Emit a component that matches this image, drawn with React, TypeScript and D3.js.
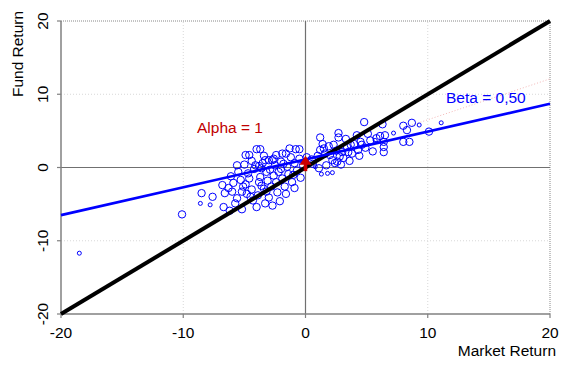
import { useEffect, useRef } from 'react';
import * as d3 from 'd3';

// axis ticks
const xTicks = [-20, -10, 0, 10, 20];
const yTicks = [-20, -10, 0, 10, 20];

// fund vs market returns
const points: [number, number][] = [
  [-10.1, -6.4], [-8.5, -3.5], [-7.6, -4.0], [-6.7, -5.4], [-6.6, -3.5],
  [-6.0, -3.3], [-5.75, -4.9], [-5.6, -4.2], [-5.9, -2.1], [-5.6, 0.3],
  [-4.9, 1.7], [-4.6, 1.7], [-4.0, 2.5], [-3.7, 2.5], [-5.5, -0.6],
  [-5.3, -1.7], [-5.1, -2.6], [-4.5, -4.0], [-4.3, -4.5], [-4.7, -0.8],
  [-4.1, 0.3], [-3.8, 0.2], [-3.7, -1.3], [-3.8, -2.0], [-3.4, -2.9],
  [-3.3, 1.0], [-3.2, -0.6], [-3.2, -3.3], [-3.0, 1.0], [-2.7, 1.0],
  [-2.6, 1.2], [-1.9, 1.9], [-1.6, 1.9], [-0.8, 2.5], [-0.5, 2.5],
  [-6.3, -2.8], [-6.1, -1.2], [-5.2, -3.3], [-4.9, -2.3], [-4.6, -1.5],
  [-4.4, -3.0], [-4.2, -0.2], [-3.9, -3.8], [-3.6, -2.5], [-3.5, 0.6],
  [-3.1, -1.8], [-2.9, -0.3], [-2.8, -2.6], [-2.6, -1.1], [-2.5, 0.3],
  [-2.3, -3.4], [-2.2, -0.6], [-2.0, 0.8], [-1.9, -1.5], [-1.7, -2.6],
  [-1.5, 0.1], [-1.4, -0.9], [-1.2, 1.4], [-1.1, -2.0], [-0.9, 0.6],
  [-0.7, -0.4], [-0.5, 1.2], [-0.4, -1.4], [-0.2, 0.3], [-2.4, 1.7],
  [-3.4, 1.6], [-4.4, 0.9], [-5.0, 0.4], [-1.3, 2.6], [-2.1, -4.6],
  [-2.7, -5.2], [-3.3, -4.9], [-1.6, -3.6], [-0.9, -2.8], [-5.2, -5.7],
  [-4.0, -5.4], [-6.2, -5.9], [-3.0, -4.1], [-2.4, -2.0], [-1.0, -1.0],
  [-4.8, -3.6], [-3.6, -0.1], [-2.0, -0.2], [-1.8, 0.5], [-6.8, -2.4],
  [0.1, 1.4], [1.2, 4.1], [2.7, 4.7], [4.8, 6.2], [4.2, 4.4],
  [2.7, 4.1], [2.3, 3.1], [1.9, 2.9], [1.5, 2.6], [1.2, 2.4],
  [1.6, 1.9], [2.2, 1.0], [2.6, 0.8], [2.8, 1.5], [3.0, 2.1],
  [3.4, 2.8], [3.7, 3.1], [4.3, 2.4], [4.6, 3.1], [4.5, 3.5],
  [5.3, 3.7], [1.1, -0.1], [2.4, 0.6], [3.5, 2.1], [6.3, 5.9],
  [8.0, 5.7], [8.7, 6.1], [8.3, 5.1], [6.5, 4.4], [6.1, 4.3],
  [5.8, 4.0], [6.4, 3.5], [6.4, 2.8], [6.4, 2.1], [8.0, 3.5],
  [8.5, 3.5], [10.1, 4.9], [1.0, 1.6], [1.4, 3.2], [2.0, 1.7],
  [2.5, 2.3], [3.1, 1.3], [3.3, 3.9], [3.8, 1.9], [4.0, 3.2],
  [4.4, 1.6], [4.9, 2.7], [5.1, 4.6], [5.5, 2.2], [2.9, 0.4],
  [3.6, 0.9], [1.7, 0.3], [0.5, 1.1], [0.6, 0.5],
];

// points that render as small marks
const smallPoints: [number, number][] = [
  [-18.5, -11.7], [-8.6, -4.9], [-7.8, -5.1], [5.7, 3.7], [7.2, 4.7],
  [9.3, 5.8], [11.1, 6.1], [0.8, 0.1], [1.3, -0.9], [1.8, -0.8], [2.2, -0.7],
];

// regression lines: [x, y] end points
const diagonal: [number, number][] = [[-20, -20], [20, 20]];
const fitLine: [number, number][] = [[-20, -6.5], [20, 8.7]];
const faintLine: [number, number][] = [[8, 5.4], [20, 12.1]];
const alpha: [number, number] = [0, 1];

export default function App() {
  const svgRef = useRef<SVGSVGElement>(null);

  useEffect(() => {
    if (!svgRef.current) return;
    const width = 576;
    const height = 370;
    const svg = d3.select(svgRef.current);
    svg.selectAll('*').remove();

    const x = d3.scaleLinear().domain([-20, 20]).range([61, 550]);
    const y = d3.scaleLinear().domain([-20, 20]).range([314, 21]);
    const font = 'Arial, "Liberation Sans", sans-serif';

    const g = svg.append('g');

    // dotted grid
    [-10, 10].forEach(v => {
      g.append('line')
        .attr('x1', x(v)).attr('x2', x(v)).attr('y1', y(-20)).attr('y2', y(20))
        .attr('stroke', '#d8d8d8').attr('stroke-dasharray', '1,2');
      g.append('line')
        .attr('x1', x(-20)).attr('x2', x(20)).attr('y1', y(v)).attr('y2', y(v))
        .attr('stroke', '#d8d8d8').attr('stroke-dasharray', '1,2');
    });
    // dotted top and right border
    g.append('line')
      .attr('x1', x(-20)).attr('x2', x(20)).attr('y1', y(20)).attr('y2', y(20))
      .attr('stroke', '#888').attr('stroke-dasharray', '1,1');
    g.append('line')
      .attr('x1', x(20)).attr('x2', x(20)).attr('y1', y(20)).attr('y2', y(-20))
      .attr('stroke', '#888').attr('stroke-dasharray', '1,1');

    // zero lines
    g.append('line')
      .attr('x1', x(-20)).attr('x2', x(20)).attr('y1', y(0)).attr('y2', y(0))
      .attr('stroke', '#707070').attr('stroke-width', 1.2);
    g.append('line')
      .attr('x1', x(0)).attr('x2', x(0)).attr('y1', y(-20)).attr('y2', y(20))
      .attr('stroke', '#707070').attr('stroke-width', 1.2);

    // axes
    const axisColor = '#808080';
    g.append('line')
      .attr('x1', x(-20)).attr('x2', x(-20)).attr('y1', y(-20)).attr('y2', y(20))
      .attr('stroke', axisColor).attr('stroke-width', 1.5);
    g.append('line')
      .attr('x1', x(-20)).attr('x2', x(20)).attr('y1', y(-20)).attr('y2', y(-20))
      .attr('stroke', axisColor).attr('stroke-width', 1.5);

    yTicks.forEach(v => {
      g.append('line')
        .attr('x1', x(-20) - 4).attr('x2', x(-20)).attr('y1', y(v)).attr('y2', y(v))
        .attr('stroke', axisColor).attr('stroke-width', 1.2);
      g.append('text')
        .attr('transform', `translate(48,${y(v)}) rotate(-90)`)
        .attr('text-anchor', 'middle')
        .style('font-family', font).style('font-size', '15.5px')
        .attr('fill', '#000')
        .text(v);
    });
    xTicks.forEach(v => {
      g.append('line')
        .attr('x1', x(v)).attr('x2', x(v)).attr('y1', y(-20)).attr('y2', y(-20) + 4)
        .attr('stroke', axisColor).attr('stroke-width', 1.2);
      g.append('text')
        .attr('x', x(v)).attr('y', 338)
        .attr('text-anchor', 'middle')
        .style('font-family', font).style('font-size', '15.5px')
        .attr('fill', '#000')
        .text(v);
    });

    // axis titles
    g.append('text')
      .attr('transform', 'translate(23,54) rotate(-90)')
      .attr('text-anchor', 'middle')
      .style('font-family', font).style('font-size', '15.5px')
      .text('Fund Return');
    g.append('text')
      .attr('x', 556).attr('y', 356)
      .attr('text-anchor', 'end')
      .style('font-family', font).style('font-size', '15.5px')
      .text('Market Return');

    const line = d3.line<[number, number]>().x(d => x(d[0])).y(d => y(d[1]));

    // faint pink line
    g.append('path').datum(faintLine).attr('d', line)
      .attr('stroke', '#f4b8b8').attr('stroke-width', 1).attr('stroke-dasharray', '1,2')
      .attr('fill', 'none');

    // scatter
    g.selectAll('.pt').data(points).join('circle')
      .attr('class', 'pt')
      .attr('cx', d => x(d[0])).attr('cy', d => y(d[1]))
      .attr('r', 3.7)
      .attr('fill', 'none').attr('stroke', '#0000ff').attr('stroke-width', 1);
    g.selectAll('.spt').data(smallPoints).join('circle')
      .attr('class', 'spt')
      .attr('cx', d => x(d[0])).attr('cy', d => y(d[1]))
      .attr('r', 2)
      .attr('fill', 'none').attr('stroke', '#0000ff').attr('stroke-width', 1);

    // lines
    g.append('path').datum(diagonal).attr('d', line)
      .attr('stroke', '#000').attr('stroke-width', 4).attr('fill', 'none');
    g.append('path').datum(fitLine).attr('d', line)
      .attr('stroke', '#0000ff').attr('stroke-width', 2.6).attr('fill', 'none');

    // alpha arrow
    const ax = x(alpha[0]);
    const y0 = y(-0.5);
    const tip = y(alpha[1] + 0.6);
    g.append('line')
      .attr('x1', ax).attr('x2', ax).attr('y1', y0).attr('y2', tip + 8)
      .attr('stroke', '#cc0000').attr('stroke-width', 3.5);
    g.append('path')
      .attr('d', `M${ax},${tip} L${ax - 6},${tip + 9} L${ax + 6},${tip + 9} Z`)
      .attr('fill', '#cc0000');

    // labels
    g.append('text')
      .attr('x', 197).attr('y', 133)
      .style('font-family', font).style('font-size', '15.5px')
      .attr('fill', '#c00000')
      .text('Alpha = 1');
    g.append('text')
      .attr('x', 446).attr('y', 103)
      .style('font-family', font).style('font-size', '15.5px')
      .attr('fill', '#0000ff')
      .text('Beta = 0,50');

    svg.attr('width', width).attr('height', height);
  }, []);

  return (
    <svg
      ref={svgRef}
      width={576}
      height={370}
      style={{ position: 'absolute', left: 0, top: 0, background: '#fff' }}
    />
  );
}
